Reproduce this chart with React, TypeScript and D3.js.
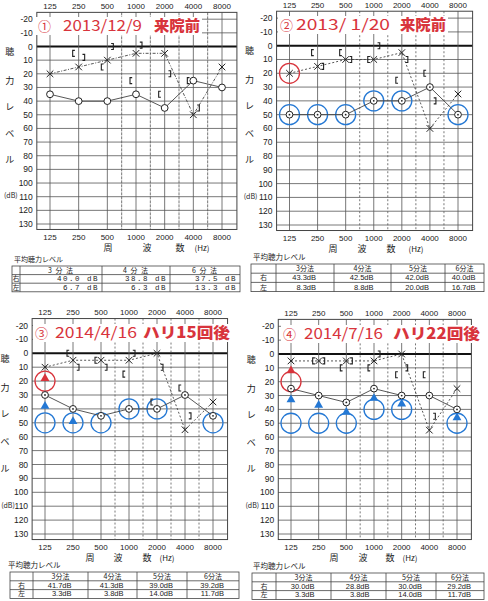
import React from 'react';
import * as d3 from 'd3';

// ---------- shared axis data ----------
const FREQS = [125, 250, 500, 1000, 2000, 4000, 8000];
const FREQ_LABELS = ['125', '250', '500', '1000', '2000', '4000', '8000'];
const HALF_OCTAVE_FROM = [500, 1000, 2000, 4000];
const DB_TICKS = [-20, -10, 0, 10, 20, 30, 40, 50, 60, 70, 80, 90, 100, 110, 120, 130];
const Y_TITLE = ['聴', '力', 'レ', 'ベ', 'ル', '(dB)'];
const Y_TITLE_DB = [4, 25, 44, 64, 83, 109];
const X_TITLE = ['周', '波', '数', '(Hz)'];

// ---------- titles ----------
const TITLE_NUM = ['①', '②', '③', '④'];
const TITLE_DATE = ['2013/12/9', '2013/ 1/20', '2014/4/16', '2014/7/16'];
const TITLE_BOLD = ['来院前', '来院前', 'ハリ15回後', 'ハリ22回後'];

// ---------- panel 1 : 2013/12/9 ----------
const p1Right = [35, 40, 40, 35, 45, 25, 30];
const p1Left = [20, 15, 10, 5, 5, 50, 15];
const p1BoneR: [number, number][] = [[250, 5], [500, 15], [1000, 25], [2000, 35], [4000, 25]];
const p1BoneL: [number, number][] = [[250, 8], [500, 0], [1000, -1], [2000, 20], [4000, 45]];

// ---------- panel 2 : 2013/1/20 ----------
const p2Right = [50, 50, 50, 40, 40, 30, 50];
const p2Left = [20, 15, 10, 10, 5, 60, 35];
const p2BoneR: [number, number][] = [[250, 5], [500, 5], [1000, 10], [2000, 25], [4000, 20]];
const p2BoneL: [number, number][] = [[250, 15], [500, 10], [1000, 0], [2000, 10], [4000, 40]];
const p2BlueCircles: [number, number][] = [[125, 50], [250, 50], [500, 50], [1000, 40], [2000, 40], [8000, 50]];
const p2RedCircles: [number, number][] = [[125, 20]];

// ---------- panel 3 : 2014/4/16 ----------
const p3Right = [30, 40, 45, 40, 40, 30, 45];
const p3Left = [10, 5, 5, 5, 0, 55, 35];
const p3BoneR: [number, number][] = [[250, 0], [500, 5], [1000, 15], [2000, 35], [4000, 25]];
const p3BoneL: [number, number][] = [[250, 10], [500, 10], [1000, 0], [2000, 10], [4000, 45]];
const p3BlueCircles: [number, number][] = [[125, 50], [250, 50], [500, 50], [1000, 40], [2000, 40], [8000, 50]];
const p3RedCircles: [number, number][] = [[125, 20]];
const p3BlueTri: [number, number][] = [[125, 38], [250, 49]];
const p3RedTri: [number, number][] = [[125, 18]];

// ---------- panel 4 : 2014/7/16 ----------
const p4Right = [25, 30, 35, 25, 30, 30, 40];
const p4Left = [5, 5, 5, 5, 0, 55, 25];
const p4BoneR: [number, number][] = [[250, 5], [500, 10], [1000, 10], [2000, 15], [4000, 15]];
const p4BoneL: [number, number][] = [[250, 5], [500, 5], [1000, 0], [2000, 10], [4000, 45]];
const p4BlueCircles: [number, number][] = [[125, 50], [250, 50], [500, 50], [1000, 40], [2000, 40], [8000, 50]];
const p4RedCircles: [number, number][] = [[125, 20]];
const p4BlueTri: [number, number][] = [[125, 33], [250, 37], [500, 42], [1000, 32], [2000, 36], [8000, 46]];
const p4RedTri: [number, number][] = [[125, 12]];

// ---------- average hearing level tables ----------
const P1_METHODS = ['3 分 法', '4 分 法', '6 分 法'];
const P1_AVG_R = ['40.0 dB', '38.8 dB', '37.5 dB'];
const P1_AVG_L = ['6.7 dB', '6.3 dB', '13.3 dB'];
const METHODS = ['3分法', '4分法', '5分法', '6分法'];
const P2_AVG_R = ['43.3dB', '42.5dB', '42.0dB', '40.0dB'];
const P2_AVG_L = ['8.3dB', '8.8dB', '20.0dB', '16.7dB'];
const P3_AVG_R = ['41.7dB', '41.3dB', '39.0dB', '39.2dB'];
const P3_AVG_L = ['3.3dB', '3.8dB', '14.0dB', '11.7dB'];
const P4_AVG_R = ['30.0dB', '28.8dB', '30.0dB', '29.2dB'];
const P4_AVG_L = ['3.3dB', '3.8dB', '14.0dB', '11.7dB'];
const ROW_LABELS = ['右', '左'];
const AVG_TITLE = '平均聴力レベル';

const RED = '#d8343c';
const BLUE = '#2478d4';
const JP = '"Noto Sans CJK JP", sans-serif';
const NUM = '"Liberation Sans", Arial, sans-serif';

const LAYOUT = [
  { x125: 50, x8000: 222, y0: 46.5, y130: 224, titleY: 31, numX: 38, dateX: 63, dateW: 79, boldX: 154, boldW: 46,
    hzX: [108, 147, 180, 202], avgX: 14, cols: [12, 20, 102, 170, 240], tTop: 266, rowH: 8.6, dotted: false, mono: true },
  { x125: 289.5, x8000: 458, y0: 45.7, y130: 225, titleY: 30, numX: 280, dateX: 296, dateW: 94, boldX: 400, boldW: 46,
    hzX: [333, 362, 391, 416], avgX: 253, cols: [251, 276, 334, 391, 445, 484], tTop: 264, rowH: 9.2, dotted: true, mono: false },
  { x125: 45, x8000: 213, y0: 353.3, y130: 534, titleY: 338, numX: 35, dateX: 55, dateW: 82, boldX: 143, boldW: 87,
    hzX: [90, 118, 147, 167], avgX: 8, cols: [10, 33, 88, 137, 187, 239], tTop: 572, rowH: 8.8, dotted: true, mono: false },
  { x125: 291, x8000: 457, y0: 354, y130: 534, titleY: 339, numX: 283, dateX: 304, dateW: 79, boldX: 393, boldW: 87,
    hzX: [334, 363, 390, 410], avgX: 253, cols: [252, 276, 331, 386, 436, 484], tTop: 573, rowH: 8.8, dotted: true, mono: false },
];

type Pt = [number, number];
interface PanelData {
  right: number[]; left: number[]; boneR: Pt[]; boneL: Pt[];
  blueC: Pt[]; redC: Pt[]; blueT: Pt[]; redT: Pt[];
  methods: string[]; avgR: string[]; avgL: string[];
}

const DATA: PanelData[] = [
  { right: p1Right, left: p1Left, boneR: p1BoneR, boneL: p1BoneL, blueC: [], redC: [], blueT: [], redT: [],
    methods: P1_METHODS, avgR: P1_AVG_R, avgL: P1_AVG_L },
  { right: p2Right, left: p2Left, boneR: p2BoneR, boneL: p2BoneL, blueC: p2BlueCircles, redC: p2RedCircles, blueT: [], redT: [],
    methods: METHODS, avgR: P2_AVG_R, avgL: P2_AVG_L },
  { right: p3Right, left: p3Left, boneR: p3BoneR, boneL: p3BoneL, blueC: p3BlueCircles, redC: p3RedCircles, blueT: p3BlueTri, redT: p3RedTri,
    methods: METHODS, avgR: P3_AVG_R, avgL: P3_AVG_L },
  { right: p4Right, left: p4Left, boneR: p4BoneR, boneL: p4BoneL, blueC: p4BlueCircles, redC: p4RedCircles, blueT: p4BlueTri, redT: p4RedTri,
    methods: METHODS, avgR: P4_AVG_R, avgL: P4_AVG_L },
];

function Panel({ i }: { i: number }) {
  const L = LAYOUT[i];
  const D = DATA[i];
  const x = d3.scaleLog().domain([125, 8000]).range([L.x125, L.x8000]);
  const y = d3.scaleLinear().domain([0, 130]).range([L.y0, L.y130]);
  const left = x(125 / Math.pow(2, 0.46));
  const right = x(8000 * Math.pow(2, 0.52));
  const top = y(-25);
  const bottom = y(134);
  const line = d3.line<number>().x((_, k) => x(FREQS[k])).y((v) => y(v));
  const tri = d3.symbol().type(d3.symbolTriangle).size(34)();
  const xs = 3.3;
  const xMark = (cx: number, cy: number) =>
    `M${cx - xs},${cy - xs}L${cx + xs},${cy + xs}M${cx - xs},${cy + xs}L${cx + xs},${cy - xs}`;
  const brk = (cx: number, cy: number, dir: number) =>
    `M${cx + 2.2 * dir},${cy - 3}H${cx}V${cy + 3}H${cx + 2.2 * dir}`;

  const tableTop = L.tTop;
  const rowH = L.rowH;
  const cols = L.cols;
  const tableRight = cols[cols.length - 1];
  const base = (r: number) => tableTop + rowH * (r + 1) - 2;

  return (
    <g>
      {/* horizontal grid */}
      {DB_TICKS.map((d) => (
        <line key={'h' + d} x1={left} x2={right} y1={y(d)} y2={y(d)} stroke={d === 0 ? '#111' : '#555'}
          strokeWidth={d === 0 ? 2 : 0.8} />
      ))}
      {/* vertical octave grid */}
      {FREQS.map((f) => (
        <line key={'v' + f} x1={x(f)} x2={x(f)} y1={top} y2={bottom} stroke="#555" strokeWidth={0.8} />
      ))}
      {/* half-octave grid */}
      {HALF_OCTAVE_FROM.map((f) => (
        <line key={'hv' + f} x1={x(f * Math.SQRT2)} x2={x(f * Math.SQRT2)} y1={top} y2={bottom}
          stroke="#555" strokeWidth={0.8} strokeDasharray={L.dotted ? '2,2' : '3,1'} />
      ))}
      <rect x={left} y={top} width={right - left} height={bottom - top} fill="none" stroke="#444" strokeWidth={1} />

      {/* y tick labels */}
      {DB_TICKS.map((d) => (
        <text key={'yl' + d} x={left - 4} y={y(d) + 3} fontSize={8.5} fontFamily={NUM} textAnchor="end" fill="#222">
          {d}
        </text>
      ))}
      {/* y title */}
      {Y_TITLE.map((t, k) => (
        <text key={'yt' + k} x={k === 5 ? Math.max(left - 26, 8) : left - 27} y={y(Y_TITLE_DB[k]) + 3}
          fontSize={k === 5 ? 7 : 9} fontFamily={JP} textAnchor="middle" fill="#222">{t}</text>
      ))}
      {/* x tick labels top and bottom */}
      {FREQS.map((f, k) => (
        <g key={'xl' + f}>
          <text x={x(f)} y={top - 3.5} fontSize={8} fontFamily={NUM} textAnchor="middle" fill="#222">{FREQ_LABELS[k]}</text>
          <text x={x(f)} y={L.y130 + 16} fontSize={8} fontFamily={NUM} textAnchor="middle" fill="#222">{FREQ_LABELS[k]}</text>
        </g>
      ))}
      {X_TITLE.map((t, k) => (
        <text key={'xt' + k} x={L.hzX[k]} y={L.y130 + 27} fontSize={k === 3 ? 8 : 9} fontFamily={JP}
          textAnchor="middle" fill="#222">{t}</text>
      ))}

      {/* title */}
      <rect x={L.numX - 2} y={L.titleY - 14} width={L.boldX + L.boldW - L.numX + 4} height={18} fill="#fff" />
      <text x={L.numX} y={L.titleY} fontSize={13} fontFamily={JP} fill={RED}>{TITLE_NUM[i]}</text>
      <text x={L.dateX} y={L.titleY} fontSize={15} fontFamily={JP} fill={RED} textLength={L.dateW}
        lengthAdjust="spacingAndGlyphs">{TITLE_DATE[i]}</text>
      <text x={L.boldX} y={L.titleY} fontSize={15} fontFamily={JP} fontWeight={900} fill={RED} textLength={L.boldW}
        lengthAdjust="spacingAndGlyphs">{TITLE_BOLD[i]}</text>

      {/* big highlight circles */}
      {D.blueC.map(([f, v], k) => (
        <circle key={'bc' + k} cx={x(f)} cy={y(v)} r={10} fill="none" stroke={BLUE} strokeWidth={1.3} />
      ))}
      {D.redC.map(([f, v], k) => (
        <circle key={'rc' + k} cx={x(f)} cy={y(v)} r={10} fill="none" stroke={RED} strokeWidth={1.3} />
      ))}

      {/* left ear (X, dotted) */}
      <path d={line(D.left) || ''} fill="none" stroke="#444" strokeWidth={0.9} strokeDasharray={L.dotted ? '2,2' : '3,1.5,1,1.5'} />
      {D.left.map((v, k) => (
        <path key={'x' + k} d={xMark(x(FREQS[k]), y(v))} stroke="#222" strokeWidth={1} fill="none" />
      ))}
      {/* right ear (O, solid) */}
      <path d={line(D.right) || ''} fill="none" stroke="#444" strokeWidth={0.9} />
      {D.right.map((v, k) => (
        <g key={'o' + k}>
          <circle cx={x(FREQS[k])} cy={y(v)} r={3.4} fill="#fff" stroke="#222" strokeWidth={1} />
          {L.dotted && <circle cx={x(FREQS[k])} cy={y(v)} r={0.9} fill="#222" />}
        </g>
      ))}
      {/* bone conduction brackets */}
      {D.boneR.map(([f, v], k) => (
        <path key={'br' + k} d={brk(x(f) - 6, y(v), 1)} stroke="#222" strokeWidth={1.1} fill="none" />
      ))}
      {D.boneL.map(([f, v], k) => (
        <path key={'bl' + k} d={brk(x(f) + 6, y(v), -1)} stroke="#222" strokeWidth={1.1} fill="none" />
      ))}
      {/* triangles */}
      {D.blueT.map(([f, v], k) => (
        <path key={'bt' + k} d={tri || ''} transform={`translate(${x(f)},${y(v)})`} fill={BLUE} />
      ))}
      {D.redT.map(([f, v], k) => (
        <path key={'rt' + k} d={tri || ''} transform={`translate(${x(f)},${y(v)})`} fill={RED} />
      ))}

      {/* average table */}
      <text x={L.avgX} y={tableTop - 4} fontSize={L.mono ? 7 : 7.5} fontFamily={JP} fill="#222">{AVG_TITLE}</text>
      <rect x={cols[0]} y={tableTop} width={tableRight - cols[0]} height={rowH * 3} fill="none" stroke="#444" strokeWidth={0.8} />
      {[1, 2].map((r) => (
        <line key={'tr' + r} x1={cols[0]} x2={tableRight} y1={tableTop + rowH * r} y2={tableTop + rowH * r} stroke="#444" strokeWidth={0.8} />
      ))}
      {cols.slice(1, -1).map((c, k) => (
        <line key={'tc' + k} x1={c} x2={c} y1={tableTop} y2={tableTop + rowH * 3} stroke="#444" strokeWidth={0.8} />
      ))}
      {D.methods.map((m, k) => (
        <text key={'m' + k} x={(cols[k + 1] + cols[k + 2]) / 2} y={base(0)} fontSize={7}
          fontFamily={JP} textAnchor="middle" fill="#222" letterSpacing={L.mono ? 1 : 0}>{m}</text>
      ))}
      {ROW_LABELS.map((t, r) => (
        <text key={'rl' + r} x={(cols[0] + cols[1]) / 2} y={base(r + 1)} fontSize={7}
          fontFamily={JP} textAnchor="middle" fill="#222">{t}</text>
      ))}
      {[D.avgR, D.avgL].map((row, r) =>
        row.map((t, k) => (
          <text key={'v' + r + k} x={L.mono ? cols[k + 2] - 3 : (cols[k + 1] + cols[k + 2]) / 2 + 11}
            y={base(r + 1)} fontSize={7.5}
            fontFamily={L.mono ? '"Liberation Mono", monospace' : NUM} textAnchor="end" fill="#222"
            letterSpacing={L.mono ? 1.5 : 0}>{t}</text>
        ))
      )}
    </g>
  );
}

export default function App() {
  return (
    <svg width={488} height={601} viewBox="0 0 488 601"
      style={{ position: 'absolute', left: 0, top: 0, background: '#fff' }}>
      <rect x={0} y={0} width={488} height={601} fill="#fff" />
      {[0, 1, 2, 3].map((i) => <Panel key={i} i={i} />)}
    </svg>
  );
}
